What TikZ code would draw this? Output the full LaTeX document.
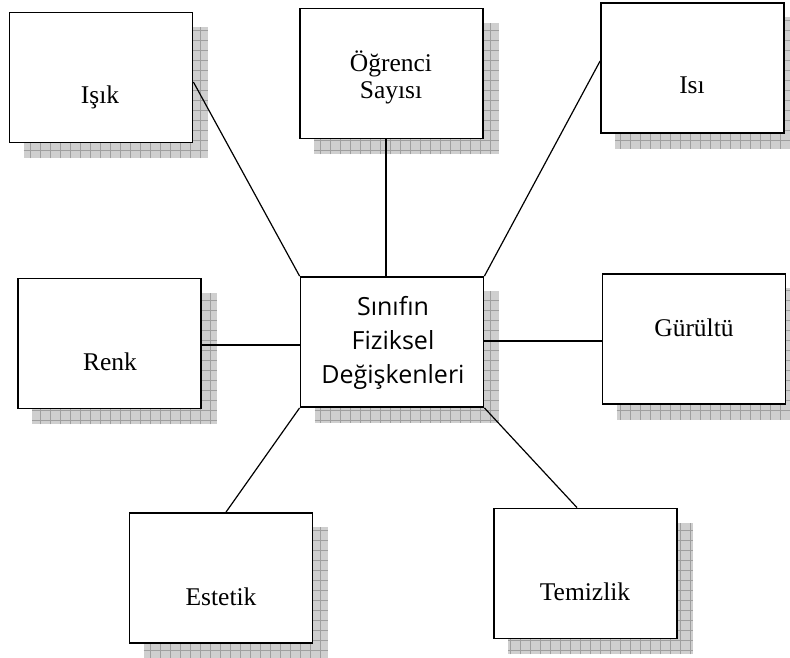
\documentclass[tikz,border=0pt]{standalone}
\usepackage{fontspec}
\setmainfont{Liberation Serif}
\newfontfamily\hubfont{Open Sans}
\usetikzlibrary{backgrounds,calc}

\tikzset{
  topic/.style={draw=black, line width=1.8pt, fill=white,
    minimum width=183pt, minimum height=130pt, inner sep=0pt},
  label text/.style={font=\fontsize{25.5}{27}\selectfont, align=center, anchor=base, inner sep=0pt},
  hub text/.style={font=\hubfont\fontsize{25}{34}\selectfont, align=center, anchor=base, inner sep=0pt},
  link/.style={draw=black, line width=1.2pt},
  shade fill/.style={fill=gray!38},
  shade grid/.style={draw=gray!75, line width=0.5pt}
}

% grey chequered drop shadow behind a box, offset down and to the right
\newcommand\boxshadow[1]{%
  \path[shade fill] ([shift={(15,15)}]#1.north west) rectangle ([shift={(15,15)}]#1.south east);
  \begin{scope}
    \clip ([shift={(15,15)}]#1.north west) rectangle ([shift={(15,15)}]#1.south east);
    \draw[shade grid, step=10pt] ([shift={(15,15)}]#1.north west) grid ([shift={(15,15)}]#1.south east);
  \end{scope}}

\begin{document}
\begin{tikzpicture}[x=1pt, y=-1pt]
  \useasboundingbox (0,0) rectangle (790,658);

  % boxes
  \node[topic] (isik) at (101,77.5) {};
  \node[topic] (ogr)  at (391.5,73.5) {};
  \node[topic] (isi)  at (692.5,68) {};
  \node[topic] (hub)  at (392,342) {};
  \node[topic] (renk) at (109.5,343.5) {};
  \node[topic] (gur)  at (694,339) {};
  \node[topic] (est)  at (221,578) {};
  \node[topic] (tem)  at (585.5,573.5) {};

  % texts (base anchor sits on the last line)
  \node[label text] (isik-t) at (100,104) {Işık};
  \node[label text] (ogr-t)  at (391,99)  {Öğrenci\\Sayısı};
  \node[label text] (isi-t)  at (692,94)  {Isı};
  \node[label text] (renk-t) at (110,370) {Renk};
  \node[label text] (gur-t)  at (694,336) {Gürültü};
  \node[label text] (est-t)  at (221,605) {Estetik};
  \node[label text] (tem-t)  at (585,600) {Temizlik};
  \node[hub text]   (hub-t)  at (393,383) {Sınıfın\\Fiziksel\\Değişkenleri};

  \begin{scope}[on background layer]
    \fill[white] (0,0) rectangle (790,658);
    \boxshadow{isik}
    \boxshadow{ogr}
    \boxshadow{isi}
    \boxshadow{hub}
    \boxshadow{renk}
    \boxshadow{gur}
    \boxshadow{est}
    \boxshadow{tem}
    % connectors
    \draw[link] ([yshift=-4.5pt]isik.east) -- (hub.north west);
    \draw[link] ([xshift=-5.5pt]ogr.south) -- ([xshift=-6pt]hub.north);
    \draw[link] ([yshift=7pt]isi.west) -- (hub.north east);
    \draw[link] ([yshift=-1.5pt]renk.east) coordinate (r1) -- (r1 -| hub.west);
    \draw[link] ([yshift=1pt]hub.east) coordinate (g1) -- (g1 -| gur.west);
    \draw[link] (hub.south west) -- ([xshift=5pt]est.north);
    \draw[link] (hub.south east) -- ([xshift=-8.5pt]tem.north);
  \end{scope}
\end{tikzpicture}
\end{document}
